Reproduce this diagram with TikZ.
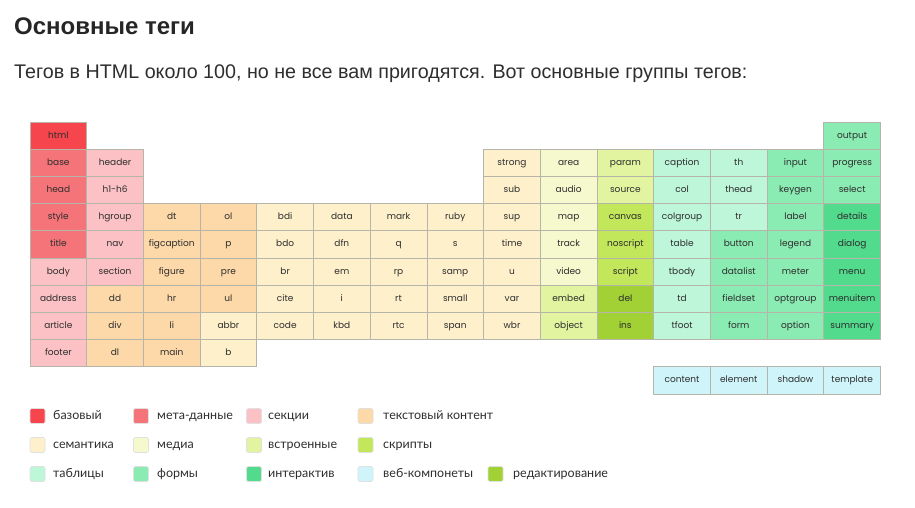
\documentclass[tikz,border=0pt]{standalone}
\usepackage{fontspec}
\setmainfont{Liberation Sans}
\newfontfamily\cellfont{Poppins}
\newfontfamily\legfont{Lato}
\definecolor{basic}{HTML}{F6454D}
\definecolor{meta}{HTML}{F47479}
\definecolor{sect}{HTML}{FBC1C4}
\definecolor{txtc}{HTML}{FDD8A8}
\definecolor{sem}{HTML}{FEF0CB}
\definecolor{media}{HTML}{F6F8CE}
\definecolor{emb}{HTML}{E2F4A0}
\definecolor{scr}{HTML}{C2E75A}
\definecolor{edit}{HTML}{A2D136}
\definecolor{tab}{HTML}{BDF6D8}
\definecolor{forms}{HTML}{8BECB3}
\definecolor{inter}{HTML}{52DA8D}
\definecolor{web}{HTML}{CFF5FB}
\definecolor{ink}{HTML}{2E2E2E}
\definecolor{cellline}{HTML}{B5B5AA}
\begin{document}
\begin{tikzpicture}[x=1pt,y=-1pt,
  cellbox/.style={draw=cellline,line width=0.8pt,minimum width=56.7pt,minimum height=27.2pt,inner sep=0pt,
    text height=6.6pt,text depth=1.6pt,
    font=\cellfont\fontsize{9}{10}\selectfont,text=ink},
  swatch/.style={draw=black!12,line width=0.6pt,rounded corners=1.5pt,minimum size=15pt,inner sep=0pt},
  legtext/.style={anchor=west,inner sep=0pt,text height=8.6pt,text depth=2.4pt,
    font=\legfont\fontsize{12.5}{14}\selectfont,text=ink}]
\useasboundingbox (0,0) rectangle (915,508);
\fill[white] (0,0) rectangle (915,508);
\node[anchor=west,inner sep=0pt,font=\bfseries\fontsize{24}{28}\selectfont,text=black!85] (title) at (14,26) {Основные теги};
\node[anchor=west,inner sep=0pt,font=\fontsize{19.7}{23}\selectfont,text=ink] (subtitle) at (14,74) {Тегов в HTML около 100, но не все вам пригодятся. Вот основные группы тегов:};
\foreach \c/\r/\k/\t in {
 0/0/basic/html, 14/0/forms/output,
 0/1/meta/base, 1/1/sect/header, 8/1/sem/strong, 9/1/media/area, 10/1/emb/param, 11/1/tab/caption, 12/1/tab/th, 13/1/forms/input, 14/1/forms/progress,
 0/2/meta/head, 1/2/sect/h1-h6, 8/2/sem/sub, 9/2/media/audio, 10/2/emb/source, 11/2/tab/col, 12/2/tab/thead, 13/2/forms/keygen, 14/2/forms/select,
 0/3/meta/style, 1/3/sect/hgroup, 2/3/txtc/dt, 3/3/txtc/ol, 4/3/sem/bdi, 5/3/sem/data, 6/3/sem/mark, 7/3/sem/ruby, 8/3/sem/sup, 9/3/media/map, 10/3/scr/canvas, 11/3/tab/colgroup, 12/3/tab/tr, 13/3/forms/label, 14/3/inter/details,
 0/4/meta/title, 1/4/sect/nav, 2/4/txtc/figcaption, 3/4/txtc/p, 4/4/sem/bdo, 5/4/sem/dfn, 6/4/sem/q, 7/4/sem/s, 8/4/sem/time, 9/4/media/track, 10/4/scr/noscript, 11/4/tab/table, 12/4/forms/button, 13/4/forms/legend, 14/4/inter/dialog,
 0/5/sect/body, 1/5/sect/section, 2/5/txtc/figure, 3/5/txtc/pre, 4/5/sem/br, 5/5/sem/em, 6/5/sem/rp, 7/5/sem/samp, 8/5/sem/u, 9/5/media/video, 10/5/scr/script, 11/5/tab/tbody, 12/5/forms/datalist, 13/5/forms/meter, 14/5/inter/menu,
 0/6/sect/address, 1/6/txtc/dd, 2/6/txtc/hr, 3/6/txtc/ul, 4/6/sem/cite, 5/6/sem/i, 6/6/sem/rt, 7/6/sem/small, 8/6/sem/var, 9/6/emb/embed, 10/6/edit/del, 11/6/tab/td, 12/6/forms/fieldset, 13/6/forms/optgroup, 14/6/inter/menuitem,
 0/7/sect/article, 1/7/txtc/div, 2/7/txtc/li, 3/7/sem/abbr, 4/7/sem/code, 5/7/sem/kbd, 6/7/sem/rtc, 7/7/sem/span, 8/7/sem/wbr, 9/7/emb/object, 10/7/edit/ins, 11/7/tab/tfoot, 12/7/forms/form, 13/7/forms/option, 14/7/inter/summary,
 0/8/sect/footer, 1/8/txtc/dl, 2/8/txtc/main, 3/8/sem/b,
 11/9/web/content, 12/9/web/element, 13/9/web/shadow, 14/9/web/template}
 \node[cellbox,fill=\k] (n\c-\r) at ({30+56.7*(\c+0.5)},{122+27.2*(\r+0.5)}) {\t};
% legend
\foreach \i/\x/\y/\k/\tx/\t in {
 1/37.5/416/basic/53/базовый, 2/141/416/meta/157/мета-данные, 3/254/416/sect/268/секции, 4/365.5/416/txtc/383/текстовый контент,
 5/37.5/445/sem/53/семантика, 6/141/445/media/157/медиа, 7/254/445/emb/268/встроенные, 8/365.5/445/scr/383/скрипты,
 9/37.5/474/tab/53/таблицы, 10/141/474/forms/157/формы, 11/254/474/inter/268/интерактив, 12/365.5/474/web/383/веб-компонеты, 13/495.5/474/edit/513/редактирование}
 {\node[swatch,fill=\k] (s\i) at (\x,\y) {};
  \node[legtext] (l\i) at (\tx,\y) {\t};}
\end{tikzpicture}
\end{document}
